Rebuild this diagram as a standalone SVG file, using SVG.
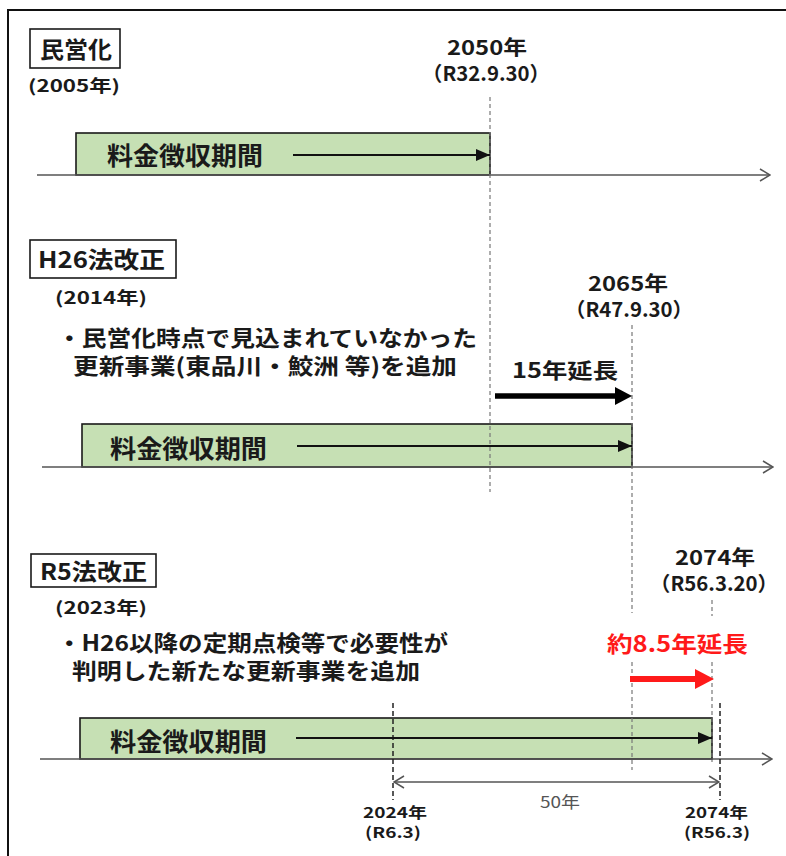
<svg xmlns="http://www.w3.org/2000/svg" width="786" height="856" viewBox="0 0 786 856">
<style>
text{font-family:"Noto Sans CJK JP","Noto Sans",sans-serif;fill:#1a1a1a;font-weight:bold}
.ttl{font-size:23px}
.yr{font-size:17px}
.dt{font-size:20px}
.bl{font-size:22px}
.bar{fill:#c6e0b4;stroke:#1a1a1a;stroke-width:1.6}
.bt{font-size:25px}
.box{fill:#fff;stroke:#1a1a1a;stroke-width:1.6}
.axis{stroke:#555;stroke-width:1.5;fill:none}
.dash{stroke:#777;stroke-width:1.2;stroke-dasharray:4 3;fill:none}
.dashk{stroke:#222;stroke-width:1.5;stroke-dasharray:5 3;fill:none}
.inarr{stroke:#111;stroke-width:2.2;fill:none}
.sm{font-size:15px}
</style>
<defs>
<marker id="open" markerWidth="12" markerHeight="14" refX="11" refY="7" orient="auto" markerUnits="userSpaceOnUse">
<path d="M1,1 L11,7 L1,13" fill="none" stroke="#555" stroke-width="1.5"/>
</marker>
<marker id="openS" markerWidth="12" markerHeight="14" refX="11" refY="7" orient="auto-start-reverse" markerUnits="userSpaceOnUse">
<path d="M1,1 L11,7 L1,13" fill="none" stroke="#555" stroke-width="1.5"/>
</marker>
<marker id="tri" markerWidth="14" markerHeight="12" refX="14" refY="6" orient="auto" markerUnits="userSpaceOnUse">
<path d="M0,0 L14,6 L0,12 Z" fill="#111"/>
</marker>
</defs>
<rect x="0" y="0" width="786" height="856" fill="#fff"/>
<rect x="8" y="10" width="800" height="900" fill="none" stroke="#111" stroke-width="2"/>

<g id="section1">
<g id="s1-title"><rect class="box" x="30" y="29" width="90" height="39"/><text class="ttl" x="40" y="58" textLength="72" lengthAdjust="spacingAndGlyphs">民営化</text></g>
<text class="yr" x="28" y="92" textLength="92" lengthAdjust="spacingAndGlyphs">(2005年)</text>
<g id="s1-date"><text class="dt" x="447" y="55" textLength="80" lengthAdjust="spacingAndGlyphs">2050年</text><text class="dt" x="422" y="81" textLength="128" lengthAdjust="spacingAndGlyphs">（R32.9.30）</text></g>
<g id="s1-bar"><rect class="bar" x="76" y="133" width="414" height="42"/><text class="bt" x="107" y="165" textLength="156" lengthAdjust="spacingAndGlyphs">料金徴収期間</text></g>
</g>

<g id="section2">
<g id="s2-title"><rect class="box" x="30" y="240" width="146" height="38"/><text class="ttl" x="38" y="268" textLength="127" lengthAdjust="spacingAndGlyphs">H26法改正</text></g>
<text class="yr" x="55" y="304" textLength="92" lengthAdjust="spacingAndGlyphs">(2014年)</text>
<text class="bl" x="57" y="346" textLength="420" lengthAdjust="spacingAndGlyphs">・民営化時点で見込まれていなかった</text>
<text class="bl" x="73" y="374" textLength="384" lengthAdjust="spacingAndGlyphs">更新事業(東品川・鮫洲 等)を追加</text>
<g id="s2-date"><text class="dt" x="588" y="291" textLength="80" lengthAdjust="spacingAndGlyphs">2065年</text><text class="dt" x="565" y="317" textLength="128" lengthAdjust="spacingAndGlyphs">（R47.9.30）</text></g>
<text id="s2-ext" style="font-size:21px" x="512" y="378" textLength="106" lengthAdjust="spacingAndGlyphs">15年延長</text>
<g id="s2-bar"><rect class="bar" x="82" y="424" width="550" height="43"/><text class="bt" x="110" y="458" textLength="157" lengthAdjust="spacingAndGlyphs">料金徴収期間</text></g>
</g>

<g id="section3">
<g id="s3-title"><rect class="box" x="31" y="554" width="125" height="33"/><text class="ttl" x="40" y="580" textLength="107" lengthAdjust="spacingAndGlyphs">R5法改正</text></g>
<text class="yr" x="55" y="614" textLength="92" lengthAdjust="spacingAndGlyphs">(2023年)</text>
<text class="bl" x="57" y="651" textLength="391" lengthAdjust="spacingAndGlyphs">・H26以降の定期点検等で必要性が</text>
<text class="bl" x="72" y="679" textLength="348" lengthAdjust="spacingAndGlyphs">判明した新たな更新事業を追加</text>
<g id="s3-date"><text class="dt" x="675" y="565" textLength="80" lengthAdjust="spacingAndGlyphs">2074年</text><text class="dt" x="650" y="591" textLength="128" lengthAdjust="spacingAndGlyphs">（R56.3.20）</text></g>
<text id="s3-ext" style="font-size:22px;fill:#ff1a1a" x="607" y="652" textLength="141" lengthAdjust="spacingAndGlyphs">約8.5年延長</text>
<g id="s3-bar"><rect class="bar" x="80" y="718" width="632" height="41"/><text class="bt" x="110" y="751" textLength="157" lengthAdjust="spacingAndGlyphs">料金徴収期間</text></g>
<g id="s3-start"><text class="sm" x="363" y="818" textLength="64" lengthAdjust="spacingAndGlyphs">2024年</text><text class="sm" x="365" y="838" textLength="56" lengthAdjust="spacingAndGlyphs">(R6.3)</text></g>
<g id="s3-end"><text class="sm" x="685" y="818" textLength="63" lengthAdjust="spacingAndGlyphs">2074年</text><text class="sm" x="684" y="838" textLength="66" lengthAdjust="spacingAndGlyphs">(R56.3)</text></g>
<text id="s3-span" style="font-size:16px;font-weight:normal;fill:#555" x="540" y="808" textLength="40" lengthAdjust="spacingAndGlyphs">50年</text>
</g>

<g id="connectors">
<line class="axis" x1="37" y1="175" x2="770" y2="175" marker-end="url(#open)"/>
<line class="axis" x1="42" y1="467" x2="773" y2="467" marker-end="url(#open)"/>
<line class="axis" x1="40" y1="759" x2="772" y2="759" marker-end="url(#open)"/>
<line class="dash" x1="490" y1="97" x2="490" y2="492"/>
<line class="dash" x1="632" y1="325" x2="632" y2="613"/>
<line class="dash" x1="632" y1="662" x2="632" y2="770"/>
<line class="dash" x1="712" y1="600" x2="712" y2="616"/>
<line class="dash" x1="712" y1="662" x2="712" y2="762"/>
<line class="dashk" x1="393" y1="703" x2="393" y2="800"/>
<line class="dashk" x1="720" y1="703" x2="720" y2="800"/>
<line class="inarr" x1="293" y1="155" x2="490" y2="155" marker-end="url(#tri)"/>
<line class="inarr" x1="297" y1="446" x2="632" y2="446" marker-end="url(#tri)"/>
<line class="inarr" x1="296" y1="738" x2="712" y2="738" marker-end="url(#tri)"/>
<line x1="495" y1="396" x2="618" y2="396" stroke="#000" stroke-width="5.5"/>
<polygon points="615,387 632,396 615,405" fill="#000"/>
<line x1="630" y1="679" x2="698" y2="679" stroke="#ff1a1a" stroke-width="6"/>
<polygon points="695,669 714,679 695,689" fill="#ff1a1a"/>
<line class="axis" x1="394" y1="782" x2="719" y2="782" marker-start="url(#openS)" marker-end="url(#openS)"/>
</g>
</svg>
